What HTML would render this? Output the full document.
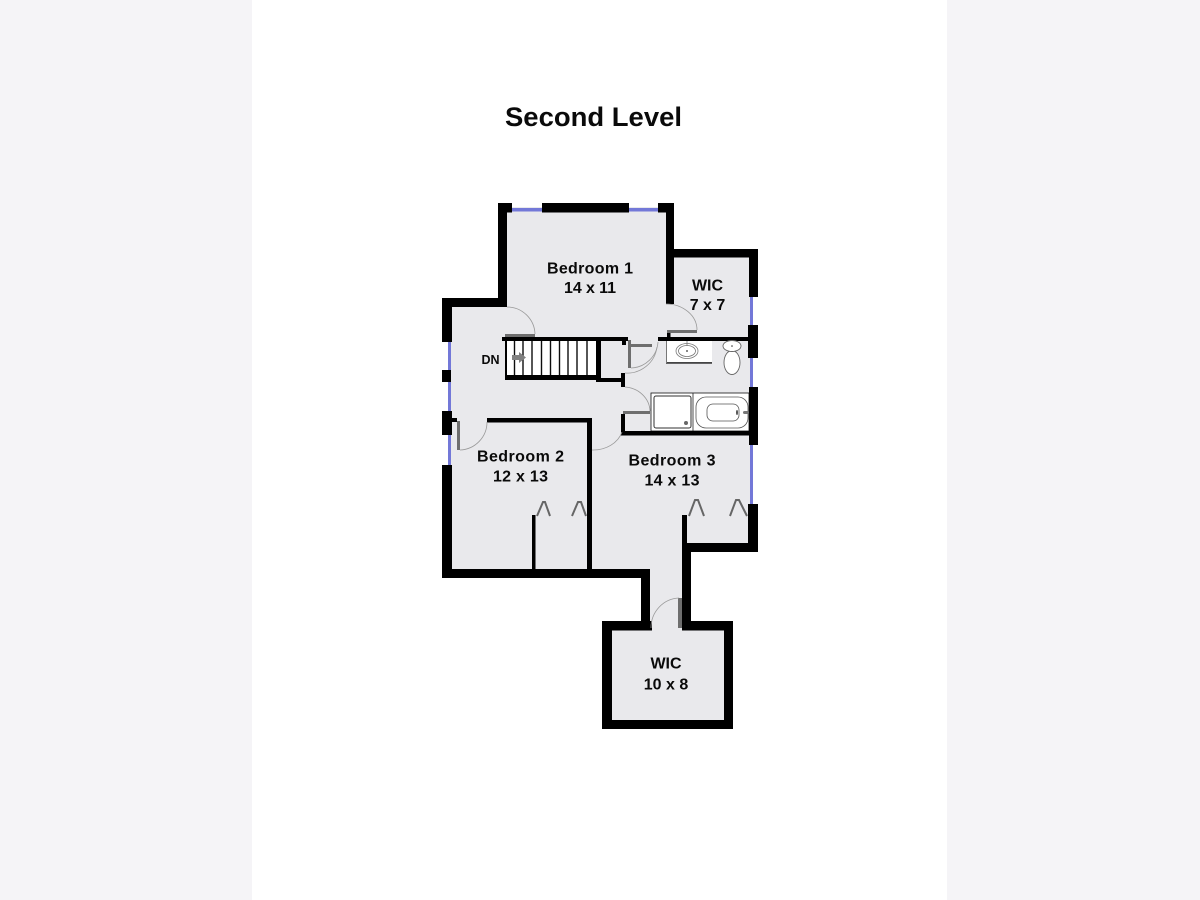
<!DOCTYPE html>
<html><head><meta charset="utf-8"><style>html,body{margin:0;padding:0;background:#f5f4f7}svg{display:block}text{font-family:"Liberation Sans",sans-serif;font-weight:bold;fill:#0a0a0a;text-anchor:middle}</style></head>
<body>
<svg width="1200" height="900" viewBox="0 0 1200 900" xmlns="http://www.w3.org/2000/svg">
<defs><filter id="b" x="0" y="0" width="100%" height="100%"><feGaussianBlur stdDeviation="0.35"/></filter></defs>
<rect width="1200" height="900" fill="#f5f4f7"/>
<rect x="252" width="695" height="900" fill="#fff"/>
<g filter="url(#b)">
<polygon points="498,203 674,203 674,249 758,249 758,552 691,552 691,621 733,621 733,729 602,729 602,621 641,621 641,578 442,578 442,298 498,298" fill="#e9e9ec"/>
<g fill="#fff">
<rect x="498" y="203" width="176" height="4"/>
<rect x="753" y="297" width="5" height="28"/><rect x="753" y="358" width="5" height="29"/><rect x="753" y="445" width="5" height="59"/>
<rect x="442" y="342" width="6" height="69"/><rect x="442" y="435" width="6" height="30"/>
</g>
<g fill="#7378d8">
<rect x="512" y="208" width="30" height="3.500"/><rect x="629" y="208" width="29" height="3.500"/>
<rect x="750" y="297" width="3" height="28"/><rect x="750" y="358" width="3" height="29"/><rect x="750" y="445" width="3" height="59"/>
<rect x="448" y="342" width="3" height="69"/><rect x="448" y="435" width="3" height="30"/>
</g>
<g fill="#fff">
<rect x="507" y="341" width="89" height="34"/>
<rect x="666" y="341" width="46" height="22"/>
<rect x="651" y="393" width="98" height="38" stroke="#111" stroke-width="0.800"/>
</g>
<g fill="#000">
<rect x="498" y="203" width="14" height="9.500"/><rect x="542" y="203" width="87" height="9.500"/><rect x="658" y="203" width="16" height="9.500"/>
<rect x="498" y="203" width="9" height="104"/>
<rect x="666" y="203" width="8" height="101"/>
<rect x="666" y="249" width="92" height="8.500"/>
<rect x="749" y="249" width="9" height="48"/>
<rect x="748" y="325" width="10" height="33"/>
<rect x="749" y="387" width="9" height="58"/>
<rect x="748" y="504" width="10" height="48"/>
<rect x="682" y="543" width="76" height="9"/>
<rect x="682" y="515" width="5" height="30"/>
<rect x="682" y="543" width="9" height="78"/>
<rect x="641" y="569" width="9" height="58"/>
<rect x="442" y="569" width="208" height="9"/>
<rect x="442" y="465" width="10" height="113"/>
<rect x="442" y="411" width="10" height="24"/><rect x="450" y="418" width="7" height="4"/>
<rect x="442" y="370" width="9" height="12"/>
<rect x="442" y="298" width="10" height="44"/>
<rect x="442" y="298" width="65" height="9"/>
<rect x="487" y="418" width="105" height="4.500"/>
<rect x="587" y="418" width="5" height="152"/>
<rect x="532" y="515" width="3.500" height="55"/>
<rect x="621" y="431" width="129" height="4.500"/>
<rect x="621" y="414" width="4" height="21"/>
<rect x="502" y="337" width="126" height="4"/>
<rect x="658" y="337" width="91" height="4"/>
<rect x="505" y="341" width="2" height="35"/>
<rect x="505" y="375" width="95" height="5"/>
<rect x="596" y="341" width="5" height="39"/>
<rect x="596" y="378" width="27" height="4"/>
<rect x="621" y="373" width="4" height="14"/>
<rect x="622" y="340" width="4" height="5"/>
<rect x="667" y="332" width="3.500" height="6"/>
<rect x="602" y="621" width="50" height="9.500"/><rect x="682" y="621" width="51" height="9.500"/>
<rect x="602" y="621" width="10" height="108"/><rect x="724" y="621" width="9" height="108"/>
<rect x="602" y="720" width="131" height="9"/>
</g>
<g stroke="#111" stroke-width="1.400">
<path d="M514.500 341V375M523 341V375M532 341V375M541.500 341V375M550.500 341V375M559.500 341V375M568 341V375M577 341V375M587 341V375"/>
</g>
<polygon points="512,355 519,355 519,352 526,357.500 519,363 519,360 512,360" fill="#808080"/>
<g fill="#6e6e6e">
<rect x="505" y="334" width="30" height="3"/>
<rect x="628" y="340" width="3" height="28"/>
<rect x="630" y="344" width="22" height="3"/>
<rect x="667" y="330" width="30" height="3"/>
<rect x="623" y="411" width="27" height="3"/>
<rect x="457" y="421" width="3" height="29"/>
<rect x="678" y="598" width="4" height="30"/>
</g>
<g fill="none" stroke="#666" stroke-width="2">
<path d="M537 516L543 502H545L550 516M572 516L578 502H581L586 516M689 516L695 500H698L704 516M730 516L736 500H739L747 516"/>
</g>
<g fill="none" stroke="#999" stroke-width="0.800">
<path d="M535 334A28 28 0 0 0 507 307"/>
<path d="M697 330A31 26 0 0 0 666 304"/>
<path d="M631 368A28 28 0 0 0 658 342"/>
<path d="M625 373A30 30 0 0 0 657 347"/>
<path d="M650 411A27 25 0 0 0 625 387"/>
<path d="M460 450A28 28 0 0 0 487 422"/>
<path d="M592 450A30 25 0 0 0 622 432"/>
<path d="M679 598A29 30 0 0 0 651 628"/>
</g>
<rect x="666" y="362" width="46" height="1.800" fill="#444"/>
<rect x="666" y="341" width="1" height="22" fill="#777"/>
<g fill="none" stroke="#777" stroke-width="0.800">
<ellipse cx="687" cy="351" rx="11" ry="7.500"/><ellipse cx="687" cy="351" rx="8.500" ry="5.500"/>
<path d="M687 341V346"/>
</g>
<circle cx="687" cy="351" r="0.900" fill="#333"/>
<g fill="#fff" stroke="#666" stroke-width="0.900">
<ellipse cx="732" cy="362.500" rx="8" ry="12"/>
<ellipse cx="732" cy="346" rx="9" ry="5.500"/>
</g>
<circle cx="732" cy="346" r="0.800" fill="#333"/>
<path d="M693 393V431" stroke="#222" stroke-width="0.800"/>
<rect x="654" y="396" width="37" height="32" rx="2" fill="#fff" stroke="#333" stroke-width="1"/>
<circle cx="686" cy="423" r="2" fill="#666"/>
<rect x="696" y="397" width="52" height="31" rx="10" fill="#fff" stroke="#555" stroke-width="0.800"/>
<rect x="707" y="404" width="32" height="17" rx="6" fill="#fff" stroke="#555" stroke-width="0.800"/>
<ellipse cx="737" cy="412.500" rx="1" ry="2.500" fill="#555"/>
<rect x="743" y="411" width="6" height="3" rx="1.500" fill="#777"/>
</g>
<text x="593.500" y="126" font-size="27" textLength="177" lengthAdjust="spacingAndGlyphs">Second Level</text>
<g font-size="16">
<text x="590" y="273.500" textLength="86" lengthAdjust="spacing">Bedroom 1</text>
<text x="590" y="293" textLength="52" lengthAdjust="spacing">14 x 11</text>
<text x="707.500" y="290.500">WIC</text>
<text x="707.500" y="310">7 x 7</text>
<text x="520.500" y="461.500" textLength="87" lengthAdjust="spacing">Bedroom 2</text>
<text x="520.500" y="481.500" textLength="55" lengthAdjust="spacing">12 x 13</text>
<text x="672" y="465.500" textLength="87" lengthAdjust="spacing">Bedroom 3</text>
<text x="672" y="485.500" textLength="55" lengthAdjust="spacing">14 x 13</text>
<text x="666" y="668.500">WIC</text>
<text x="666" y="689.500">10 x 8</text>
</g>
<text x="490.500" y="364" font-size="12.500">DN</text>
</svg>
</body></html>
